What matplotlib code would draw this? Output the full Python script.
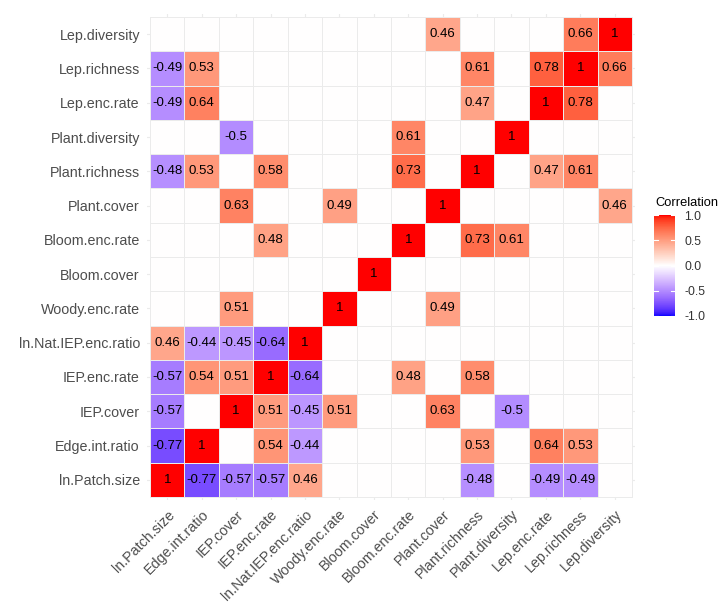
import numpy as np
import matplotlib
matplotlib.use("Agg")
import matplotlib.pyplot as plt
from matplotlib.colors import ListedColormap
from matplotlib.cm import ScalarMappable
from matplotlib.colors import Normalize

plt.rcParams['font.family'] = ['Liberation Sans', 'DejaVu Sans']

variables = ["ln.Patch.size", "Edge.int.ratio", "IEP.cover", "IEP.enc.rate",
             "ln.Nat.IEP.enc.ratio", "Woody.enc.rate", "Bloom.cover",
             "Bloom.enc.rate", "Plant.cover", "Plant.richness",
             "Plant.diversity", "Lep.enc.rate", "Lep.richness", "Lep.diversity"]

_ = None
corr = [
    [1, -0.77, -0.57, -0.57, 0.46, _, _, _, _, -0.48, _, -0.49, -0.49, _],
    [-0.77, 1, _, 0.54, -0.44, _, _, _, _, 0.53, _, 0.64, 0.53, _],
    [-0.57, _, 1, 0.51, -0.45, 0.51, _, _, 0.63, _, -0.5, _, _, _],
    [-0.57, 0.54, 0.51, 1, -0.64, _, _, 0.48, _, 0.58, _, _, _, _],
    [0.46, -0.44, -0.45, -0.64, 1, _, _, _, _, _, _, _, _, _],
    [_, _, 0.51, _, _, 1, _, _, 0.49, _, _, _, _, _],
    [_, _, _, _, _, _, 1, _, _, _, _, _, _, _],
    [_, _, _, 0.48, _, _, _, 1, _, 0.73, 0.61, _, _, _],
    [_, _, 0.63, _, _, 0.49, _, _, 1, _, _, _, _, 0.46],
    [-0.48, 0.53, _, 0.58, _, _, _, 0.73, _, 1, _, 0.47, 0.61, _],
    [_, _, -0.5, _, _, _, _, 0.61, _, _, 1, _, _, _],
    [-0.49, 0.64, _, _, _, _, _, _, _, 0.47, _, 1, 0.78, _],
    [-0.49, 0.53, _, _, _, _, _, _, _, 0.61, _, 0.78, 1, 0.66],
    [_, _, _, _, _, _, _, _, 0.46, _, _, _, 0.66, 1],
]
legend_ticks = [-1.0, -0.5, 0.0, 0.5, 1.0]


# ---- Lab-interpolated diverging palette (blue - white - red) ----
def srgb_to_lab(rgb):
    rgb = np.asarray(rgb, float)
    lin = np.where(rgb <= 0.04045, rgb / 12.92, ((rgb + 0.055) / 1.055) ** 2.4)
    M = np.array([[0.4124564, 0.3575761, 0.1804375],
                  [0.2126729, 0.7151522, 0.0721750],
                  [0.0193339, 0.1191920, 0.9503041]])
    xyz = M @ lin
    wp = np.array([0.95047, 1.0, 1.08883])
    t = xyz / wp
    d = 6 / 29
    f = np.where(t > d ** 3, np.cbrt(t), t / (3 * d * d) + 4 / 29)
    return np.array([116 * f[1] - 16, 500 * (f[0] - f[1]), 200 * (f[1] - f[2])])


def lab_to_srgb(lab):
    L, a, b = lab
    fy = (L + 16) / 116
    fx = fy + a / 500
    fz = fy - b / 200
    d = 6 / 29
    def finv(f):
        return np.where(f > d, f ** 3, 3 * d * d * (f - 4 / 29))
    wp = np.array([0.95047, 1.0, 1.08883])
    xyz = np.array([finv(fx), finv(fy), finv(fz)]) * wp
    Minv = np.array([[3.2404542, -1.5371385, -0.4985314],
                     [-0.9692660, 1.8760108, 0.0415560],
                     [0.0556434, -0.2040259, 1.0572252]])
    lin = Minv @ xyz
    lin = np.clip(lin, 0, 1)
    rgb = np.where(lin <= 0.0031308, 12.92 * lin, 1.055 * lin ** (1 / 2.4) - 0.055)
    return np.clip(rgb, 0, 1)


low = srgb_to_lab([0, 0, 1])
mid = srgb_to_lab([1, 1, 1])
high = srgb_to_lab([1, 0, 0])
cols = []
for t in np.linspace(0, 1, 256):
    if t < 0.5:
        s = t / 0.5
        lab = low + (mid - low) * s
    else:
        s = (t - 0.5) / 0.5
        lab = mid + (high - mid) * s
    cols.append(lab_to_srgb(lab))
cmap = ListedColormap(cols)
norm = Normalize(vmin=-1, vmax=1)

n = len(variables)
Z = np.array([[0.0 if v is None else v for v in row] for row in corr])

fig = plt.figure(figsize=(7.28, 6.10), dpi=100)
W, H = 728, 610
x0, x1 = 146.6, 635.4
y0, y1 = 13.6, 500.4
ax = fig.add_axes([x0 / W, 1 - y1 / H, (x1 - x0) / W, (y1 - y0) / H])

# grid at category centres (behind tiles)
for k in range(1, n + 1):
    ax.axvline(k, color='#EBEBEB', lw=0.8, zorder=0)
    ax.axhline(k, color='#EBEBEB', lw=0.8, zorder=0)

edges = np.arange(0.5, n + 1.0, 1.0)
ax.pcolormesh(edges, edges, Z, cmap=cmap, norm=norm,
              edgecolors='#EBEBEB', linewidth=0.6, zorder=1)

for i, row in enumerate(corr):
    for j, v in enumerate(row):
        if v is None:
            continue
        ax.text(j + 1, i + 1, f"{v:g}", ha='center', va='center',
                fontsize=9.5, color='black', zorder=3)

ax.set_xlim(0.4, n + 0.6)
ax.set_ylim(0.4, n + 0.6)
ax.set_xticks(range(1, n + 1))
ax.set_yticks(range(1, n + 1))
ax.set_xticklabels(variables, rotation=45, ha='right', va='top',
                   rotation_mode='anchor', fontsize=10.3, color='#4D4D4D')
ax.set_yticklabels(variables, fontsize=10.3, color='#4D4D4D')
ax.tick_params(axis='both', length=0)
ax.tick_params(axis='y', pad=4.8)
ax.tick_params(axis='x', pad=5.0)
for s in ax.spines.values():
    s.set_visible(False)

# colour bar
cax = fig.add_axes([654.3 / W, 1 - 316.0 / H, 20.4 / W, 100.7 / H])
cb = fig.colorbar(ScalarMappable(norm=norm, cmap=cmap), cax=cax,
                  ticks=legend_ticks)
cb.outline.set_visible(False)
cb.ax.set_yticklabels([f"{t:.1f}" for t in legend_ticks])
cax.tick_params(length=0, pad=7, labelsize=8.8, labelcolor='#333333')
for t in legend_ticks:
    cax.plot([0, 0.2], [t, t], color='white', lw=0.8, transform=cax.get_yaxis_transform())
    cax.plot([0.8, 1.0], [t, t], color='white', lw=0.8, transform=cax.get_yaxis_transform())
fig.text(655 / W, 1 - 203 / H, "Correlation", ha='left', va='center',
         fontsize=9.3, color='black')

fig.savefig("out.png", dpi=100, facecolor='white')
